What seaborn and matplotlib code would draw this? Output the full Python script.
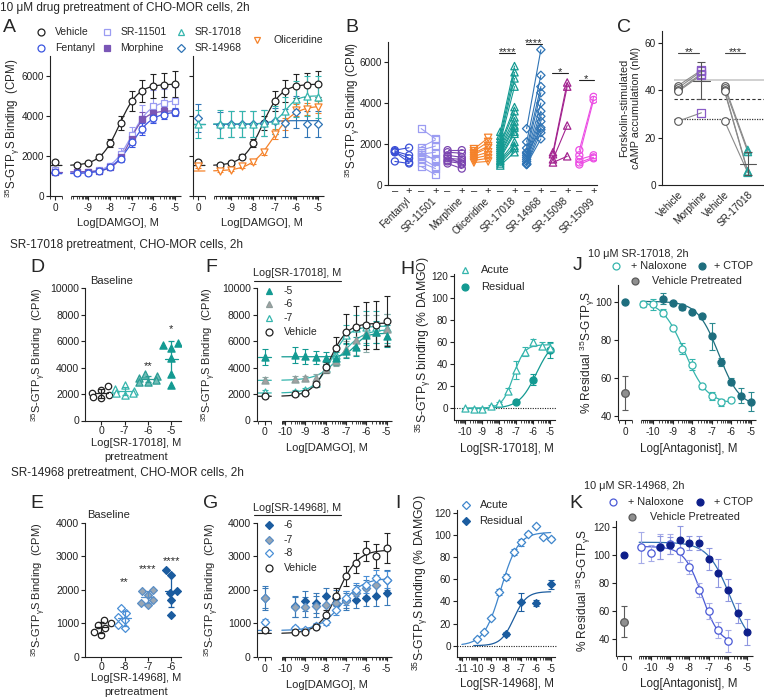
import numpy as np
import pandas as pd
import seaborn as sns
import matplotlib.pyplot as plt
from matplotlib.lines import Line2D

# ---------------- data ----------------
DAMGO = [-9.5, -9.0, -8.5, -8.0, -7.5, -7.0, -6.5, -6.0, -5.5, -5.0]

# A: 10 uM pretreatment, DAMGO response (CPM); *_0 = (value, err) without DAMGO
a_vehicle = [1550, 1650, 1970, 2630, 3630, 4770, 5270, 5500, 5530, 5600]
a_vehicle_err = [80, 100, 120, 200, 350, 500, 550, 600, 600, 650]
a_vehicle_0 = (1700, 120)
a_fentanyl = [1150, 1150, 1250, 1450, 1850, 2700, 3350, 3900, 4050, 4200]
a_fentanyl_err = [60, 60, 80, 100, 150, 250, 300, 250, 200, 200]
a_fentanyl_0 = (1200, 80)
a_sr11501 = [1200, 1200, 1300, 1500, 2100, 3050, 3850, 4500, 4650, 4750]
a_sr11501_err = [80, 80, 100, 150, 300, 400, 700, 800, 700, 700]
a_sr11501_0 = (1300, 100)
a_morphine = [1200, 1200, 1250, 1450, 1950, 2850, 3850, 4150, 4250, 4200]
a_morphine_err = [60, 60, 80, 100, 200, 300, 350, 250, 200, 150]
a_morphine_0 = (1200, 80)
a_sr17018 = [3600, 3600, 3600, 3600, 3650, 3800, 4250, 4850, 5000, 4950]
a_sr17018_err = [700, 650, 650, 650, 650, 700, 700, 900, 1000, 1050]
a_sr17018_0 = (3600, 700)
a_sr14968 = [3550, 3600, 3600, 3600, 3650, 3750, 3650, 4200, 3600, 3600]
a_sr14968_err = [650, 650, 650, 650, 650, 650, 700, 800, 650, 650]
a_sr14968_0 = (3900, 700)
a_oliceridine = [1250, 1300, 1500, 1700, 2200, 3100, 3600, 4300, 4350, 4450]
a_oliceridine_err = [60, 60, 80, 100, 150, 250, 300, 300, 300, 300]
a_oliceridine_0 = (1500, 100)

# B: paired baseline binding, without (-) / with (+) pretreatment
b_drugs = ['Fentanyl', 'SR-11501', 'Morphine', 'Oliceridine',
           'SR-17018', 'SR-14968', 'SR-15098', 'SR-15099']
b_pre = [
    [1700, 1650, 1600, 1600, 1150],
    [2750, 1850, 1700, 1500, 1400, 1300, 1100, 900, 1600],
    [1700, 1600, 1450, 1300, 1200, 1150, 1050, 1400],
    [1750, 1650, 1550, 1500, 1400, 1300, 1200, 1100],
    [2600, 2400, 2250, 2100, 2000, 1900, 1800, 1700, 1600, 1500, 1400, 1300, 1200, 1150, 1050, 950],
    [2750, 2100, 1800, 1600, 1450, 1350, 1250, 1150, 1050, 1000, 1000, 1550],
    [1600, 1500, 1250, 1100],
    [1700, 1450, 1250, 1100, 1000],
]
b_post = [
    [1820, 1450, 1300, 1100, 1050],
    [2250, 2200, 1900, 1600, 1300, 900, 800, 500, 1200],
    [1700, 1550, 1350, 1250, 1150, 1050, 800, 1000],
    [2300, 2100, 1900, 1800, 1600, 1450, 1300, 1150],
    [5800, 5500, 5200, 4800, 3800, 3600, 3300, 3100, 2900, 2800, 2600, 2500, 2100, 1900, 1800, 1600],
    [6600, 5350, 4800, 4500, 4000, 3600, 3350, 3100, 2800, 2550, 2250, 2700],
    [5000, 4800, 2900, 1400],
    [4300, 4150, 1450, 1350, 1300],
]
b_sig_drug = [4, 5, 6, 7]
b_sig_text = ['****', '****', '*', '*']
b_sig_y = [6450, 6900, 5480, 5120]

# C: forskolin-stimulated cAMP (nM)
c_groups = ['Vehicle', 'Morphine', 'Vehicle', 'SR-17018']
c_vehicle = [42, 41, 40, 39.5, 27]
c_morphine = [48.5, 48, 47, 46.5, 30.5]
c_sr17018 = [14.8, 14.0, 5.8, 5.5, 5.2]
c_ref_lines = [44.5, 36.3, 27.9]
c_sig_text = ['**', '***']
c_sig_y = 55.6

# D: baseline after SR-17018 pretreatment
d_groups = ['0', '-7', '-6', '-5']
d_values = [
    [2600, 2300, 2100, 1900, 1800, 1700],
    [2700, 2400, 2200, 2050, 1950, 2100],
    [3500, 3350, 3200, 3100, 2950, 2900],
    [5900, 5750, 5500, 4700, 3500, 2700],
]
d_sig = ['', '', '**', '*']
d_sig_y = [0, 0, 4100, 6900]

# F: DAMGO response after SR-17018 pretreatment
f_vehicle = [1990, 2100, 2730, 4030, 5490, 6670, 7100, 7200, 7250, 7550]
f_vehicle_err = [150, 150, 200, 400, 800, 1400, 1600, 1800, 1800, 1900]
f_vehicle_0 = (1830, 150)
f_m5 = [4950, 4850, 4800, 4750, 4700, 5300, 5600, 6500, 6700, 6400]
f_m5_err = [600, 600, 500, 450, 500, 600, 700, 800, 800, 800]
f_m5_0 = (4800, 600)
f_m6 = [3150, 3200, 3250, 3900, 4500, 5400, 6100, 6600, 6700, 6900]
f_m6_err = [200, 200, 250, 300, 400, 600, 1100, 1400, 1300, 1200]
f_m6_0 = (3100, 200)
f_m7 = [2150, 2300, 2850, 4000, 5000, 6500, 7000, 7100, 7100, 7000]
f_m7_err = [150, 150, 200, 300, 500, 700, 1000, 1200, 1200, 1100]
f_m7_0 = (2150, 150)

# H: acute vs residual SR-17018 (% DAMGO)
h_acute_x = [-10, -9.5, -9, -8.5, -8, -7.5, -7, -6.5, -6, -5.5, -5]
h_acute = [0, -0.5, -0.5, 2, 4.5, 16, 35, 51.5, 60, 57, 55]
h_acute_err = [0.5, 0.5, 0.5, 1, 1, 2, 8, 4, 3, 3, 4]
h_resid_x = [-7, -6, -5]
h_resid = [5.5, 26, 53]
h_resid_err = [1.5, 5, 7]

# J: reversal by antagonists after 10 uM SR-17018
j_nal_x = [-10.5, -10, -9.5, -9, -8.5, -8, -7.5, -7, -6.5, -6]
j_nal = [99, 99, 94.5, 86.5, 75.5, 67, 55.5, 50.5, 47, 48.5]
j_nal_err = [1.5, 3, 2, 1, 3, 3, 1.5, 2, 2, 1.5]
j_ctop_x = [-9.5, -9, -8.5, -8, -7.5, -7, -6.5, -6, -5.5, -5]
j_ctop = [102, 99.5, 97.5, 95, 92.5, 82, 68.5, 58, 50.5, 47.5]
j_ctop_err = [3, 1, 1.5, 1, 1.5, 7, 2, 2, 4, 5]
j_ctop_0 = (100, 0.5)
j_vehicle_0 = (52, 9)

# E: baseline after SR-14968 pretreatment
e_groups = ['0', '-8', '-7', '-6']
e_values = [
    [1100, 1000, 950, 850, 750, 650],
    [1450, 1300, 1200, 1100, 950, 850],
    [2000, 1950, 1850, 1700, 1600, 1550],
    [2600, 2450, 1950, 1900, 1700, 1250],
]
e_sig = ['', '**', '****', '****']
e_sig_y = [0, 2220, 2620, 2840]

# G: DAMGO response after SR-14968 pretreatment
g_vehicle = [750, 750, 900, 1250, 1800, 2400, 2800, 3150, 3000, 3250]
g_vehicle_err = [50, 50, 80, 150, 250, 300, 300, 300, 350, 450]
g_vehicle_0 = (800, 60)
g_m6 = [1500, 1650, 1600, 1800, 1750, 1700, 1700, 1750, 1800, 1900]
g_m6_err = [300, 300, 300, 250, 250, 250, 250, 250, 300, 350]
g_m6_0 = (1750, 350)
g_m7 = [1480, 1480, 1500, 1550, 1600, 1650, 1900, 2050, 2150, 2300]
g_m7_err = [300, 300, 300, 250, 250, 250, 250, 250, 300, 300]
g_m7_0 = (1750, 300)
g_m8 = [850, 800, 930, 1050, 1400, 1750, 2000, 2150, 2350, 2300]
g_m8_err = [60, 60, 80, 100, 150, 200, 200, 250, 250, 250]
g_m8_0 = (1050, 80)

# I: acute vs residual SR-14968 (% DAMGO)
i_acute_x = [-10, -9.5, -9, -8.5, -8, -7.5, -7, -6.5, -6, -5.5, -5]
i_acute = [6, 12, 25, 48.5, 62, 84.5, 93, 101, 108, 98, 96.5]
i_acute_err = [1, 1, 1, 3, 3, 3, 3, 1, 1, 1, 1]
i_resid_x = [-8, -7, -6, -5]
i_resid = [10.5, 39.5, 38.5, 55.5]
i_resid_err = [1.5, 8, 3, 4]

# K: reversal by antagonists after 10 uM SR-14968
k_nal_x = [-10.5, -10, -9.5, -9, -8.5, -8, -7.5, -7, -6.5, -6]
k_nal = [105.5, 101.5, 106, 108, 103, 91.5, 75, 60, 46.5, 38.5]
k_nal_err = [11, 6, 9, 7, 8, 5, 5, 6, 6, 8]
k_ctop_x = [-9.5, -9, -8.5, -8, -7.5, -7, -6.5, -6, -5.5, -5]
k_ctop = [105.5, 107, 111, 108.5, 108.5, 97, 87.5, 75, 58.5, 45]
k_ctop_err = [8, 6, 10, 5, 5, 8, 10, 8, 7, 9]
k_ctop_0 = (100, 1)
k_vehicle_0 = (52.5, 11)

# ---------------- style ----------------
sns.set_style('ticks')
plt.rcParams['font.family'] = ['Liberation Sans', 'DejaVu Sans']
plt.rcParams['mathtext.fontset'] = 'custom'
plt.rcParams['mathtext.rm'] = 'Liberation Sans'
plt.rcParams['mathtext.it'] = 'Liberation Sans:italic'
plt.rcParams['mathtext.bf'] = 'Liberation Sans:bold'
plt.rcParams['mathtext.default'] = 'regular'
plt.rcParams['axes.unicode_minus'] = False
plt.rcParams['font.size'] = 7
plt.rcParams['axes.linewidth'] = 0.8
plt.rcParams['axes.edgecolor'] = '#222222'
for ax_ in ('xtick', 'ytick'):
    plt.rcParams[ax_ + '.major.width'] = 0.8
    plt.rcParams[ax_ + '.minor.width'] = 0.6
    plt.rcParams[ax_ + '.major.size'] = 3
    plt.rcParams[ax_ + '.labelsize'] = 7.2
    plt.rcParams[ax_ + '.color'] = '#222222'
plt.rcParams['xtick.major.pad'] = 2
plt.rcParams['ytick.major.pad'] = 1.2

GTP = r'$^{35}$S-GTP$_{\gamma}$S'
BLACK = '#222222'
TEAL, TEAL_L, TEAL_D = '#139a92', '#35b5ad', '#1e6e7e'
BLUE_D, BLUE_L = '#1b5c9f', '#4a8fd6'

W, H = 764, 698
fig = plt.figure(figsize=(W / 100, H / 100), dpi=100)
LIMS = []


def px_ax(x0, x1, ytop, ybot, xlim, ylim):
    ax = fig.add_axes([x0 / W, 1 - ybot / H, (x1 - x0) / W, (ybot - ytop) / H])
    sns.despine(ax=ax)
    LIMS.append((ax, xlim, ylim))
    return ax


def ftext(x, y, s, **kw):
    kw.setdefault('ha', 'center')
    kw.setdefault('va', 'center')
    kw.setdefault('fontsize', 8)
    fig.text(x / W, 1 - y / H, s, **kw)


def legend_item(xm, y, text, marker, fc, ec, tx=None, ms=5.0, fs=7.5):
    fig.add_artist(Line2D([xm / W], [1 - y / H], marker=marker, ms=ms, mfc=fc, mec=ec,
                          mew=0.9, ls='none', transform=fig.transFigure))
    ftext(tx if tx is not None else xm + 14, y, text, ha='left', fontsize=fs)


def fit_curve(x, y, bottom=None):
    """four-parameter logistic fit on a grid of logEC50 / hill slope"""
    x = np.asarray(x, float)
    y = np.asarray(y, float)
    cs = np.arange(x.min() - 1.5, x.max() + 1.5, 0.01)[:, None]
    best = None
    for h in np.arange(0.6, 1.65, 0.05):
        f = 1.0 / (1.0 + 10.0 ** ((cs - x) * h))
        if bottom is None:
            fc = f - f.mean(1, keepdims=True)
            s = (fc * (y - y.mean())).sum(1, keepdims=True) / ((fc ** 2).sum(1, keepdims=True) + 1e-12)
            b = y.mean() - s * f.mean(1, keepdims=True)
        else:
            s = (f * (y - bottom)).sum(1, keepdims=True) / ((f ** 2).sum(1, keepdims=True) + 1e-12)
            b = np.full_like(s, bottom)
        sse = ((b + s * f - y) ** 2).sum(1)
        i = int(np.argmin(sse))
        if best is None or sse[i] < best[0]:
            best = (sse[i], b[i, 0], s[i, 0], cs[i, 0], h)
    _, b, s, c, h = best
    return lambda xx: b + s / (1.0 + 10.0 ** ((c - np.asarray(xx)) * h))


def dose(ax, x, y, err, color, marker, fill, size=24, zero=None, zero_pt=None,
         spans=(), line=None, ecolor=None, bottom=None, z=4):
    if spans:
        fn = fit_curve(x, y, bottom)
        for lo, hi in spans:
            xx = np.linspace(lo, hi, 150)
            sns.lineplot(x=xx, y=fn(xx), ax=ax, color=line or color, lw=0.9,
                         legend=False, zorder=2)
    xs, ys, es = list(x), list(y), list(err)
    if zero_pt is not None:
        xs.append(zero)
        ys.append(zero_pt[0])
        es.append(zero_pt[1])
    ax.errorbar(xs, ys, yerr=es, fmt='none', ecolor=ecolor or color, elinewidth=0.8,
                capsize=2, capthick=0.8, zorder=z - 1)
    sns.scatterplot(x=xs, y=ys, ax=ax, marker=marker, s=size, facecolor=fill,
                    edgecolor=color, linewidth=0.9, zorder=z, legend=False)


def log_axis(ax, ticks, labels, main, zero_seg=None):
    ax.spines['bottom'].set_visible(False)
    tr = ax.get_xaxis_transform()
    segs = [main] + ([zero_seg] if zero_seg else [])
    for lo, hi in segs:
        ax.plot([lo, hi], [0, 0], transform=tr, color=BLACK, lw=0.8, clip_on=False,
                solid_capstyle='butt')
    ax.set_xticks(ticks, labels)
    minor = [n + np.log10(k) for n in range(-12, -3) for k in range(2, 10)]
    minor = [m for m in minor if main[0] <= m <= main[1]] + [main[0]]
    if zero_seg:
        minor += list(zero_seg)
    ax.set_xticks(minor, minor=True)
    ax.tick_params(axis='x', which='minor', length=1.8)


def swarm_panel(ax, groups, values, styles, sig, sig_y):
    for i, (vals, st) in enumerate(zip(values, styles)):
        marker, fc, ec, size = st
        sns.swarmplot(x=[groups[i]] * len(vals), y=vals, order=groups, ax=ax,
                      marker=marker, size=size, color=ec, facecolor=fc, edgecolor=ec,
                      linewidth=0.9, zorder=4)
        m, sd = np.mean(vals), np.std(vals, ddof=1)
        ax.errorbar([i], [m], yerr=[sd], fmt='none', ecolor=ec, elinewidth=0.9,
                    capsize=2.5, capthick=0.9, zorder=5)
        sns.lineplot(x=[i - 0.28, i + 0.28], y=[m, m], ax=ax, color=ec, lw=0.9,
                     legend=False, zorder=5)
        if sig[i]:
            ax.text(i, sig_y[i], sig[i], ha='center', va='center', fontsize=8)
    ax.set_xticks(range(len(groups)), groups)
    ax.tick_params(axis='both', labelsize=7.6)
    ax.tick_params(axis='x', pad=1)


# ---------------- headings ----------------
ftext(0, 8, '10 \u03bcM drug pretreatment of CHO-MOR cells, 2h', ha='left', fontsize=8.5)
ftext(10, 245, 'SR-17018 pretreatment, CHO-MOR cells, 2h', ha='left', fontsize=8.5)
ftext(11, 473, 'SR-14968 pretreatment, CHO-MOR cells, 2h', ha='left', fontsize=8.5)
for letter, (lx, ly) in {'A': (9, 27), 'B': (352, 28), 'C': (624, 28), 'D': (37, 268),
                         'F': (211, 268), 'H': (407, 270), 'J': (578, 266), 'E': (37, 503),
                         'G': (211, 503), 'I': (398, 503), 'K': (576, 503)}.items():
    ftext(lx, ly, letter, fontsize=14)

# ---------------- A ----------------
ZA = -10.5
A_TICKS = [ZA, -9, -8, -7, -6, -5]
A_LABELS = ['0', '-9', '-8', '-7', '-6', '-5']
axA1 = px_ax(50, 181.6, 56, 196, (-10.75, -4.7), (0, 7000))
axA2 = px_ax(193, 324.6, 56, 196, (-10.75, -4.7), (0, 7000))
A_SPANS = [(-10.75, -10.2), (-9.8, -5.0)]
VEH = dict(color=BLACK, marker='o', fill='white', size=24)
dose(axA1, DAMGO, a_sr11501, a_sr11501_err, '#9b9cf2', 's', 'white', 22, ZA, a_sr11501_0, A_SPANS)
dose(axA1, DAMGO, a_morphine, a_morphine_err, '#7a56b6', 's', '#7a56b6', 20, ZA, a_morphine_0, A_SPANS)
dose(axA1, DAMGO, a_fentanyl, a_fentanyl_err, '#3a55e0', 'o', 'white', 24, ZA, a_fentanyl_0, A_SPANS)
dose(axA1, DAMGO, a_vehicle, a_vehicle_err, zero=ZA, zero_pt=a_vehicle_0, spans=A_SPANS, **VEH)
dose(axA2, DAMGO, a_vehicle, a_vehicle_err, zero=ZA, zero_pt=a_vehicle_0, spans=A_SPANS, **VEH)
dose(axA2, DAMGO, a_oliceridine, a_oliceridine_err, '#f5822a', 'v', 'white', 26, ZA, a_oliceridine_0, A_SPANS)
dose(axA2, DAMGO, a_sr14968, a_sr14968_err, '#2f74b5', 'D', 'white', 16, ZA, a_sr14968_0, A_SPANS)
dose(axA2, DAMGO, a_sr17018, a_sr17018_err, TEAL_L, '^', 'white', 26, ZA, a_sr17018_0, A_SPANS)
for ax in (axA1, axA2):
    log_axis(ax, A_TICKS, A_LABELS, (-9.8, -4.75), (-10.75, -10.2))
    ax.set_yticks([0, 2000, 4000, 6000])
axA2.set_yticklabels([])
ftext(12, 128, GTP + ' Binding  (CPM)', rotation=90, fontsize=8.3)
ftext(118, 223, 'Log[DAMGO], M')
ftext(262, 223, 'Log[DAMGO], M')
legend_item(40.7, 32, 'Vehicle', 'o', 'white', BLACK)
legend_item(40.7, 48, 'Fentanyl', 'o', 'white', '#3a55e0')
legend_item(107, 32, 'SR-11501', 's', 'white', '#9b9cf2', tx=120.5)
legend_item(107, 48, 'Morphine', 's', '#7a56b6', '#7a56b6', tx=120.5)
legend_item(181, 32, 'SR-17018', '^', 'white', TEAL_L, tx=195)
legend_item(181, 48, 'SR-14968', 'D', 'white', '#2f74b5', tx=195, ms=4)
legend_item(257, 40, 'Oliceridine', 'v', 'white', '#f5822a', tx=273)

# ---------------- B ----------------
B_COLORS = ['#3a4fd6', '#9b9cf2', '#7b45b0', '#f5822a', TEAL, '#2f74b5', '#a3238f', '#ec4ee4']
B_MARKERS = ['o', 's', 'o', 'v', '^', 'D', '^', 'o']
B_SIZES = [26, 26, 26, 28, 28, 18, 28, 26]
axB = px_ax(388, 597, 41.5, 185, (-0.53, 7.4), (0, 7000))
for i, drug in enumerate(b_drugs):
    n = len(b_pre[i])
    df = pd.DataFrame({'x': [i - 0.27] * n + [i + 0.27] * n,
                       'y': b_pre[i] + b_post[i],
                       'id': list(range(n)) * 2})
    sns.lineplot(data=df, x='x', y='y', units='id', estimator=None, color=B_COLORS[i],
                 lw=0.8, ax=axB, legend=False, sort=False, zorder=2)
    sns.scatterplot(data=df, x='x', y='y', ax=axB, marker=B_MARKERS[i], s=B_SIZES[i],
                    facecolor='none', edgecolor=B_COLORS[i], linewidth=0.9,
                    legend=False, zorder=3)
    axB.text(i + 0.12, -0.075, drug, transform=axB.get_xaxis_transform(), rotation=45,
             ha='right', va='top', rotation_mode='anchor', fontsize=7.2)
for i, txt, yv in zip(b_sig_drug, b_sig_text, b_sig_y):
    sns.lineplot(x=[i - 0.3, i + 0.3], y=[yv, yv], ax=axB, color=BLACK, lw=0.8, legend=False)
    axB.annotate(txt, (i, yv), xytext=(0, -1.5), textcoords='offset points',
                 ha='center', va='baseline', fontsize=8)
B_POS = [p for i in range(len(b_drugs)) for p in (i - 0.27, i + 0.27)]
axB.set_xticks(B_POS, ['\u2013', '+'] * len(b_drugs))
axB.tick_params(axis='x', length=0, labelsize=8, pad=1)
axB.set_yticks([0, 2000, 4000, 6000])
ftext(352, 110, GTP + ' Binding (CPM)', rotation=90, fontsize=8.3)

# ---------------- C ----------------
axC = px_ax(662, 764, 31.1, 185, (-0.7, 3.7), (0, 65))
for yv, col, ls, lw in zip(c_ref_lines, ['#c8c8c8', '#333333', '#333333'],
                           ['-', (0, (3, 2)), (0, (1, 1))], [1.2, 0.8, 0.9]):
    axC.hlines(yv, -0.2, 3.7, colors=col, linestyles=ls, lw=lw, zorder=1)
for k, (pre, post, mk, col, sz) in enumerate([(c_vehicle, c_morphine, 's', '#8a5cc7', 34),
                                                (c_vehicle, c_sr17018, '^', '#25a59d', 30)]):
    n = len(pre)
    x0 = 2 * k
    df = pd.DataFrame({'x': [x0] * n + [x0 + 1] * n, 'y': pre + post,
                       'id': list(range(n)) * 2})
    sns.lineplot(data=df, x='x', y='y', units='id', estimator=None, color='#8a8a8a',
                 lw=0.8, ax=axC, legend=False, sort=False, zorder=2)
    sns.scatterplot(x=[x0] * n, y=pre, ax=axC, marker='o', s=30, facecolor='white',
                    edgecolor='#555555', linewidth=0.8, legend=False, zorder=3)
    sns.scatterplot(x=[x0 + 1] * n, y=post, ax=axC, marker=mk, s=sz, facecolor='none',
                    edgecolor=col, linewidth=0.9, legend=False, zorder=3)
    m, sd = np.mean(post), np.std(post, ddof=1)
    axC.errorbar([x0 + 1], [m], yerr=[sd], fmt='none', ecolor='#555555', elinewidth=0.8,
                 capsize=3, capthick=0.8, zorder=4)
    sns.lineplot(x=[x0 + 0.65, x0 + 1.35], y=[m, m], ax=axC, color='#555555', lw=0.8,
                 legend=False, zorder=4)
    sns.lineplot(x=[x0, x0 + 0.9], y=[c_sig_y, c_sig_y], ax=axC, color='#444444', lw=0.8,
                 legend=False)
    axC.annotate(c_sig_text[k], (x0 + 0.45, c_sig_y), xytext=(0, -1.5),
                 textcoords='offset points', ha='center', va='baseline', fontsize=8)
axC.set_xticks(range(4), c_groups, rotation=45, ha='right', rotation_mode='anchor')
axC.tick_params(axis='x', length=0, pad=3)
axC.set_yticks([0, 20, 40, 60])
ftext(630, 108, 'Forskolin-stimulated\ncAMP accumulation (nM)', rotation=90,
      linespacing=1.15, fontsize=7.8)

# ---------------- D ----------------
axD = px_ax(85, 180.5, 288.5, 420.5, (-0.7, 3.4), (0, 10000))
swarm_panel(axD, d_groups, d_values,
            [('o', 'white', BLACK, 4.6), ('^', 'white', TEAL_L, 5.2),
             ('^', '#72bdb7', '#2a9d95', 5.2), ('^', TEAL, TEAL, 5.2)], d_sig, d_sig_y)
axD.set_yticks(range(0, 10001, 2000))
ftext(112, 281, 'Baseline')
ftext(39, 355, GTP + ' Binding  (CPM)', rotation=90)
ftext(136, 443, 'Log[SR-17018], M')
ftext(136, 457, 'pretreatment')

# ---------------- F ----------------
ZF = -11.0
F_TICKS = [ZF, -10, -9, -8, -7, -6, -5]
F_LABELS = ['0', '-10', '-9', '-8', '-7', '-6', '-5']
F_SPANS = [(-11.35, -10.68), (-10.16, -5.0)]
axF = px_ax(256.7, 392.7, 288.5, 420.5, (-11.4, -4.7), (0, 10000))
dose(axF, DAMGO, f_m7, f_m7_err, TEAL_L, '^', 'white', 26, ZF, f_m7_0, F_SPANS)
dose(axF, DAMGO, f_m6, f_m6_err, '#8d9d9b', '^', '#a2a2a2', 26, ZF, f_m6_0, F_SPANS,
     line=TEAL_L, ecolor='#8aa9a6')
dose(axF, DAMGO, f_m5, f_m5_err, TEAL, '^', TEAL, 26, ZF, f_m5_0, F_SPANS)
dose(axF, DAMGO, f_vehicle, f_vehicle_err, zero=ZF, zero_pt=f_vehicle_0, spans=F_SPANS, **VEH)
log_axis(axF, F_TICKS, F_LABELS, (-10.16, -4.75), (-11.35, -10.68))
axF.set_yticks(range(0, 10001, 2000))
axF.tick_params(axis='both', labelsize=7.6)
ftext(209, 355, GTP + ' Binding  (CPM)', rotation=90)
ftext(327, 448, 'Log[DAMGO], M')
ftext(297, 273, 'Log[SR-17018], M', fontsize=7.8)
fig.add_artist(Line2D([254 / W, 341 / W], [1 - 281 / H] * 2, color=BLACK, lw=0.8,
                      transform=fig.transFigure))
legend_item(269, 291, '-5', '^', TEAL, TEAL, tx=284)
legend_item(269, 304, '-6', '^', '#a2a2a2', '#8d9d9b', tx=284)
legend_item(269, 318, '-7', '^', 'white', TEAL_L, tx=284)
legend_item(269, 332, 'Vehicle', 'o', 'white', BLACK, tx=284)

# ---------------- H ----------------
axH = px_ax(454, 557, 274, 420.4, (-10.65, -4.6), (-11, 122))
axH.axhline(0, ls=(0, (1, 1.2)), color=BLACK, lw=0.8, zorder=1)
dose(axH, h_resid_x, h_resid, h_resid_err, TEAL, 'o', TEAL, 26, spans=[(-10, -5)], bottom=0)
dose(axH, h_acute_x, h_acute, h_acute_err, TEAL_L, '^', 'white', 26, spans=[(-10, -5)])
axH.set_xticks(range(-10, -4), [str(v) for v in range(-10, -4)])
axH.set_xticks([n + np.log10(k) for n in range(-11, -5) for k in range(2, 10)
                if -10.6 <= n + np.log10(k) <= -4.7], minor=True)
axH.tick_params(axis='x', which='minor', length=1.8)
axH.spines['bottom'].set_bounds(-10.6, -4.7)
axH.set_yticks(range(0, 121, 20))
ftext(423, 345, GTP + ' binding (% DAMGO)', rotation=90, fontsize=8.8)
ftext(507, 449, 'Log[SR-17018], M', fontsize=8.3)
legend_item(465, 270, 'Acute', '^', 'white', TEAL_L, tx=481, fs=8)
legend_item(465, 287, 'Residual', 'o', TEAL, TEAL, tx=481, fs=8)

# ---------------- J ----------------
ZJ = -11.44
J_TICKS = [ZJ, -10, -9, -8, -7, -6, -5]
axJ = px_ax(618, 758.4, 285.3, 420.4, (-11.8, -4.6), (37.5, 109))
dose(axJ, j_nal_x, j_nal, j_nal_err, TEAL_L, 'o', 'white', 26, spans=[(-10.6, -6)])
dose(axJ, j_ctop_x, j_ctop, j_ctop_err, TEAL_D, 'o', TEAL_D, 26, ZJ, j_ctop_0,
     spans=[(-10.6, -5)], ecolor='#2b8a90')
dose(axJ, [ZJ], [j_vehicle_0[0]], [j_vehicle_0[1]], '#5a5a5a', 'o', '#8f8f8f', 30)
log_axis(axJ, J_TICKS, F_LABELS, (-10.6, -4.7), (-11.75, -11.1))
axJ.set_yticks([40, 60, 80, 100])
ftext(587, 352, '% Residual ' + GTP, rotation=90, fontsize=8.6)
ftext(689, 449, 'Log[Antagonist], M', fontsize=8.4)
ftext(588, 254, '10 \u03bcM SR-17018, 2h', ha='left', fontsize=7.8)
legend_item(616, 266, '+ Naloxone', 'o', 'white', TEAL_L, tx=630.7, fs=7.8)
legend_item(702, 266, '+ CTOP', 'o', TEAL_D, TEAL_D, tx=713.5, fs=7.8)
legend_item(635, 281, 'Vehicle Pretreated', 'o', '#8f8f8f', '#5a5a5a', tx=651.7, fs=7.8)

# ---------------- E ----------------
axE = px_ax(85, 180.5, 522.7, 656.7, (-0.7, 3.4), (0, 4000))
swarm_panel(axE, e_groups, e_values,
            [('o', 'white', BLACK, 4.6), ('D', 'white', BLUE_L, 4.0),
             ('D', '#98a6b4', '#5b8fc6', 4.0), ('D', BLUE_D, BLUE_D, 4.0)], e_sig, e_sig_y)
axE.set_yticks(range(0, 4001, 1000))
ftext(109, 515, 'Baseline')
ftext(39, 590, GTP + ' Binding  (CPM)', rotation=90)
ftext(136, 678, 'Log[SR-14968], M')
ftext(136, 692, 'pretreatment')

# ---------------- G ----------------
axG = px_ax(256.7, 392.7, 522.7, 656.7, (-11.4, -4.7), (0, 4000))
dose(axG, DAMGO, g_m6, g_m6_err, BLUE_D, 'D', BLUE_D, 16, ZF, g_m6_0, ecolor='#3a7ab8')
dose(axG, DAMGO, g_m7, g_m7_err, '#5b8fc6', 'D', '#98a6b4', 18, ZF, g_m7_0, ecolor='#3a7ab8')
dose(axG, DAMGO, g_m8, g_m8_err, BLUE_L, 'D', 'white', 18, ZF, g_m8_0, F_SPANS,
     line='#3f86cc')
dose(axG, DAMGO, g_vehicle, g_vehicle_err, zero=ZF, zero_pt=g_vehicle_0, spans=F_SPANS, **VEH)
log_axis(axG, F_TICKS, F_LABELS, (-10.16, -4.75), (-11.35, -10.68))
axG.set_yticks(range(0, 4001, 1000))
axG.tick_params(axis='both', labelsize=7.6)
ftext(212, 590, GTP + ' Binding  (CPM)', rotation=90)
ftext(327, 685, 'Log[DAMGO], M')
ftext(297, 508, 'Log[SR-14968], M', fontsize=7.8)
fig.add_artist(Line2D([254 / W, 341 / W], [1 - 515 / H] * 2, color=BLACK, lw=0.8,
                      transform=fig.transFigure))
legend_item(269, 525, '-6', 'D', BLUE_D, BLUE_D, tx=284, ms=4)
legend_item(269, 540, '-7', 'D', '#98a6b4', '#5b8fc6', tx=284, ms=4.3)
legend_item(269, 553, '-8', 'D', 'white', BLUE_L, tx=284, ms=4.3)
legend_item(269, 568, 'Vehicle', 'o', 'white', BLACK, tx=284)

# ---------------- I ----------------
axI = px_ax(456.7, 556.6, 510.3, 656.8, (-11.35, -4.6), (-10, 122))
axI.axhline(0, ls=(0, (1, 1.2)), color=BLACK, lw=0.8, zorder=1)
dose(axI, i_resid_x, i_resid, i_resid_err, BLUE_D, 'D', BLUE_D, 16, spans=[(-10.2, -5)],
     bottom=0)
dose(axI, i_acute_x, i_acute, i_acute_err, '#3f86cc', 'D', 'white', 18, spans=[(-11, -5)])
axI.set_xticks(range(-11, -4), [str(v) for v in range(-11, -4)])
axI.set_xticks([n + np.log10(k) for n in range(-12, -5) for k in range(2, 10)
                if -11.3 <= n + np.log10(k) <= -4.7], minor=True)
axI.tick_params(axis='x', which='minor', length=1.8)
axI.spines['bottom'].set_bounds(-11.3, -4.7)
axI.set_yticks(range(0, 121, 20))
ftext(420, 583, GTP + ' binding (% DAMGO)', rotation=90, fontsize=8.8)
ftext(507, 684, 'Log[SR-14968], M', fontsize=8.3)
legend_item(466, 505, 'Acute', 'D', 'white', '#3f86cc', tx=479.5, ms=4.3, fs=8)
legend_item(466, 521, 'Residual', 'D', BLUE_D, BLUE_D, tx=479.5, ms=4, fs=8)

# ---------------- K ----------------
ZK = -11.36
axK = px_ax(616, 755, 521.4, 655.8, (-11.8, -4.6), (28, 124))
dose(axK, k_nal_x, k_nal, k_nal_err, '#4b5ad6', 'o', 'white', 28, spans=[(-10.6, -6)],
     ecolor='#a6ace8')
dose(axK, k_ctop_x, k_ctop, k_ctop_err, '#0e1f8a', 'o', '#0e1f8a', 24, ZK, k_ctop_0,
     spans=[(-10.6, -5)], line='#2f6fb0', ecolor='#8f97e0')
dose(axK, [ZK], [k_vehicle_0[0]], [k_vehicle_0[1]], '#5a5a5a', 'o', '#8f8f8f', 30)
log_axis(axK, [ZK, -10, -9, -8, -7, -6, -5], F_LABELS, (-10.6, -4.7), (-11.75, -11.0))
axK.set_yticks([40, 60, 80, 100, 120])
ftext(583, 590, '% Residual ' + GTP, rotation=90, fontsize=8.6)
ftext(689, 684, 'Log[Antagonist], M', fontsize=8.4)
ftext(584, 486, '10 \u03bcM SR-14968, 2h', ha='left', fontsize=7.8)
legend_item(612.7, 502, '+ Naloxone', 'o', 'white', '#4b5ad6', tx=627.5, fs=7.8)
legend_item(700, 502, '+ CTOP', 'o', '#0e1f8a', '#0e1f8a', tx=713.5, fs=7.8)
legend_item(631.7, 517, 'Vehicle Pretreated', 'o', '#8f8f8f', '#5a5a5a', tx=649.5, fs=7.8)

for ax, xl, yl in LIMS:
    ax.set_xlim(*xl)
    ax.set_ylim(*yl)
    ax.set_xlabel('')
    ax.set_ylabel('')

fig.savefig('out.png', dpi=100)
